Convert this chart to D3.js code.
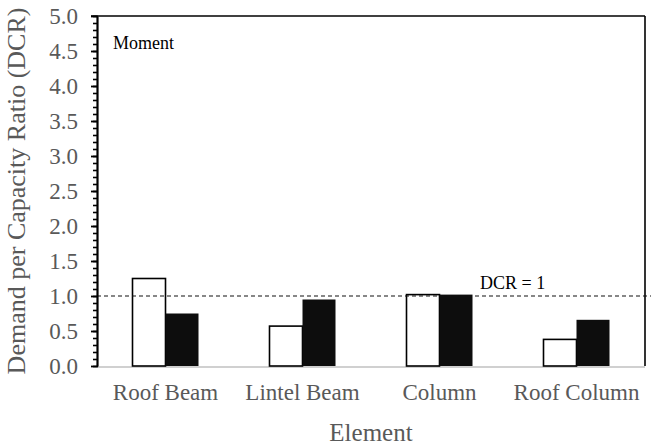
<!DOCTYPE html>
<html>
<head>
<meta charset="utf-8">
<script src="https://cdn.jsdelivr.net/npm/d3@7"></script>
<style>
  html, body { margin: 0; padding: 0; background: #fff; }
</style>
</head>
<body>
<svg id="chart" width="659" height="446"></svg>
<script>
// Element categories and DCR values for the two cases (open / filled bars)
const elements = ["Roof Beam", "Lintel Beam", "Column", "Roof Column"];
const caseOpen = [1.25, 0.57, 1.02, 0.38];
const caseFilled = [0.75, 0.95, 1.02, 0.66];
const yTicks = [0, 0.5, 1.0, 1.5, 2.0, 2.5, 3.0, 3.5, 4.0, 4.5, 5.0];
const dcrLimit = 1.0;

const SERIF = "'Times New Roman', 'Liberation Serif', 'DejaVu Serif', serif";

const svg = d3.select("#chart");
const margin = { left: 97, right: 14, top: 16, bottom: 80 };
const W = 659, H = 446;
const x0 = margin.left, x1 = W - margin.right;
const y0 = H - margin.bottom, y1 = margin.top;

const x = d3.scaleBand().domain(elements).range([x0, x1]).paddingInner(0).paddingOuter(0);
const y = d3.scaleLinear().domain([0, 5]).range([y0, y1]);
const barW = 33;

const rows = elements.map((e, i) => ({ e, open: caseOpen[i], filled: caseFilled[i] }));

function serifText(sel, size, color) {
  return sel.style("font-family", SERIF).style("font-size", size + "px").style("fill", color);
}

// frame: top and right border
svg.append("line").attr("x1", x0 - 6).attr("x2", x1).attr("y1", y1).attr("y2", y1)
  .attr("stroke", "#000").attr("stroke-width", 1.6);
svg.append("line").attr("x1", x1).attr("x2", x1).attr("y1", y1).attr("y2", y0)
  .attr("stroke", "#000").attr("stroke-width", 1.6);

// x baseline (light gray)
svg.append("line").attr("x1", x0).attr("x2", x1).attr("y1", y0 + 1).attr("y2", y0 + 1)
  .attr("stroke", "#d0d0d0").attr("stroke-width", 2);

// bars
const g = svg.append("g");
g.selectAll("rect.open").data(rows).join("rect")
  .attr("class", "open")
  .attr("x", d => x(d.e) + x.bandwidth() / 2 - barW)
  .attr("y", d => y(d.open))
  .attr("width", barW)
  .attr("height", d => y(0) - y(d.open))
  .attr("fill", "#fff").attr("stroke", "#000").attr("stroke-width", 1.6);
g.selectAll("rect.filled").data(rows).join("rect")
  .attr("class", "filled")
  .attr("x", d => x(d.e) + x.bandwidth() / 2)
  .attr("y", d => y(d.filled))
  .attr("width", barW)
  .attr("height", d => y(0) - y(d.filled))
  .attr("fill", "#0d0d0d");

// DCR = 1 reference line
svg.append("line")
  .attr("x1", x0).attr("x2", x1 + 6)
  .attr("y1", y(dcrLimit)).attr("y2", y(dcrLimit))
  .attr("stroke", "#111").attr("stroke-width", 1.2).attr("stroke-dasharray", "4,3");
serifText(svg.append("text").attr("x", 480).attr("y", y(dcrLimit) - 7), 18, "#000")
  .text("DCR = " + d3.format(".0f")(dcrLimit));

// y axis with minor ticks
const minor = d3.range(0, 51).map(i => i / 10);
const yMinor = d3.axisLeft(y).tickValues(minor).tickSize(4).tickFormat("");
const ym = svg.append("g").attr("transform", `translate(${x0},0)`).call(yMinor);
ym.select(".domain").remove();
ym.selectAll("line").attr("stroke", "#000").attr("stroke-width", 1.6);

const yAxis = d3.axisLeft(y).tickValues(yTicks).tickSizeInner(6).tickSizeOuter(0)
  .tickPadding(13).tickFormat(d3.format(".1f"));
const ya = svg.append("g").attr("transform", `translate(${x0},0)`).call(yAxis);
ya.select(".domain").attr("stroke", "#000").attr("stroke-width", 2.2);
ya.selectAll(".tick line").attr("stroke", "#000").attr("stroke-width", 1.8).attr("x2", -6).attr("x1", 1);
serifText(ya.selectAll("text"), 23, "#595959");

// x axis labels
const xAxis = d3.axisBottom(x).tickSize(0).tickPadding(18);
const xa = svg.append("g").attr("transform", `translate(0,${y0})`).call(xAxis);
xa.select(".domain").remove();
serifText(xa.selectAll("text"), 23, "#595959");

// axis titles
serifText(svg.append("text").attr("x", (x0 + x1) / 2).attr("y", 441)
  .attr("text-anchor", "middle"), 25, "#595959").text("Element");
serifText(svg.append("text").attr("transform", `translate(25,${(y0 + y1) / 2}) rotate(-90)`)
  .attr("text-anchor", "middle"), 26, "#595959")
  .text("Demand per Capacity Ratio (DCR)");

// panel label
serifText(svg.append("text").attr("x", 113).attr("y", 49), 18, "#000").text("Moment");
</script>
</body>
</html>
